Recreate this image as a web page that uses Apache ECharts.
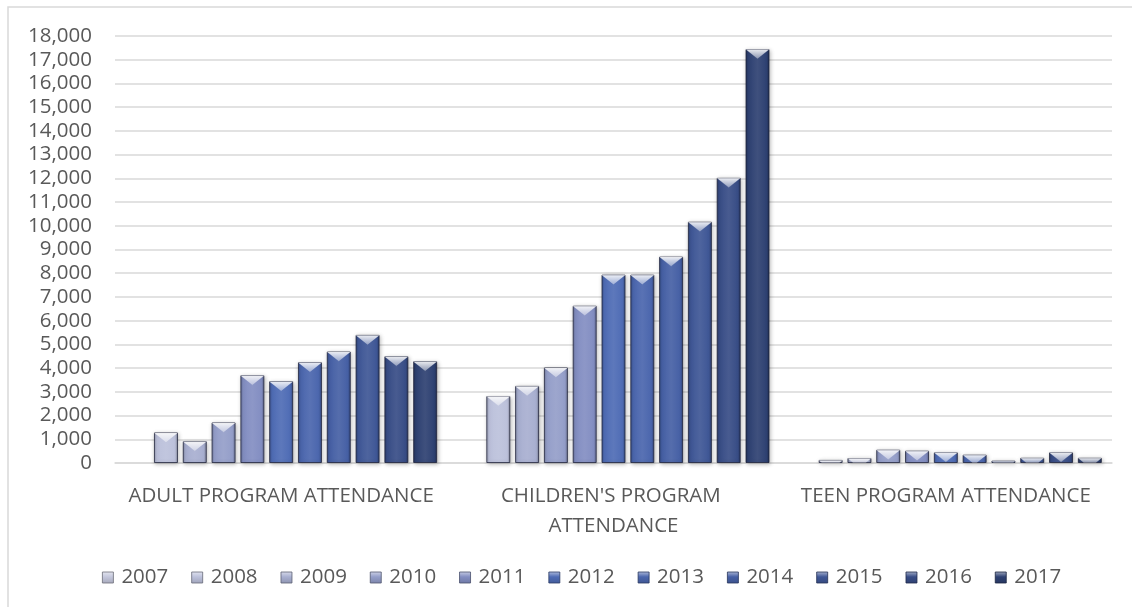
<!DOCTYPE html>
<html>
<head>
<meta charset="utf-8">
<style>
  html, body { margin: 0; padding: 0; background: #ffffff; }
  #chart { width: 1132px; height: 607px; }
</style>
<script src="https://cdn.jsdelivr.net/npm/echarts@6/dist/echarts.min.js"></script>
</head>
<body>
<div id="chart"></div>
<script>
// Program attendance by year, grouped by program type
const categories = ['ADULT PROGRAM ATTENDANCE', "CHILDREN'S PROGRAM ATTENDANCE", 'TEEN PROGRAM ATTENDANCE'];
const years = ['2007', '2008', '2009', '2010', '2011', '2012', '2013', '2014', '2015', '2016', '2017'];

// One array per year: [adult, children's, teen]
const y2007 = [null, null, null];
const y2008 = [1290, 2820, 130];
const y2009 = [920, 3250, 210];
const y2010 = [1710, 4030, 560];
const y2011 = [3700, 6630, 520];
const y2012 = [3450, 7940, 450];
const y2013 = [4250, 7940, 350];
const y2014 = [4700, 8700, 100];
const y2015 = [5400, 10170, 220];
const y2016 = [4500, 12020, 450];
const y2017 = [4290, 17450, 220];
const seriesValues = [y2007, y2008, y2009, y2010, y2011, y2012, y2013, y2014, y2015, y2016, y2017];

const yTicks = { min: 0, max: 18000, interval: 1000 };

// Light lavender for the earliest year down to deep navy for the latest
const yearColors = ['#c4c7dc', '#bcc1db', '#a8afd0', '#949ec9', '#838ec2', '#4f6cb5', '#4b66ad', '#4660a5', '#3f5796', '#384d86', '#2e4172'];

const BAR_W = 24;
const GAP = 0.2;
const CAP_H = 9;

function shade(hex, amt) {
  const n = parseInt(hex.slice(1), 16);
  let r = (n >> 16) & 255, g = (n >> 8) & 255, b = n & 255;
  const f = c => Math.max(0, Math.min(255, Math.round(amt < 0 ? c * (1 + amt) : c + (255 - c) * amt)));
  return 'rgb(' + f(r) + ',' + f(g) + ',' + f(b) + ')';
}

function barFill(hex) {
  return new echarts.graphic.LinearGradient(0, 0, 1, 0, [
    { offset: 0, color: shade(hex, -0.22) },
    { offset: 0.12, color: hex },
    { offset: 0.5, color: shade(hex, 0.08) },
    { offset: 0.88, color: hex },
    { offset: 1, color: shade(hex, -0.28) }
  ]);
}

const barSeries = years.map((yr, i) => ({
  name: yr,
  type: 'bar',
  barWidth: BAR_W,
  barGap: (GAP * 100) + '%',
  data: seriesValues[i],
  itemStyle: {
    color: barFill(yearColors[i]),
    borderColor: 'rgba(25,30,55,0.75)',
    borderWidth: 1,
    shadowBlur: 4,
    shadowColor: 'rgba(0,0,0,0.28)',
    shadowOffsetX: 1,
    shadowOffsetY: 1
  },
  emphasis: { disabled: true }
}));

// Bevelled top caps drawn on top of each bar, positioned from the same axes
const capData = [];
seriesValues.forEach((vals, yi) => {
  vals.forEach((v, ci) => {
    if (v != null) capData.push([ci, v, yi]);
  });
});

const capSeries = {
  type: 'custom',
  name: 'caps',
  silent: true,
  z: 3,
  data: capData,
  encode: { x: 0, y: 1 },
  renderItem: function (params, api) {
    const ci = api.value(0), v = api.value(1), yi = api.value(2);
    const top = api.coord([ci, v]);
    const base = api.coord([ci, 0]);
    const n = years.length;
    const total = n * BAR_W + (n - 1) * BAR_W * GAP;
    const x0 = top[0] - total / 2 + yi * BAR_W * (1 + GAP) + 0.5;
    const w = BAR_W - 1;
    const h = base[1] - top[1];
    const ch = Math.min(CAP_H, Math.max(0, h - 1));
    const hw = (w / 2) * (1 - ch / CAP_H);
    const xc = x0 + w / 2;
    const y = top[1] + 0.5;
    return {
      type: 'polygon',
      shape: { points: [[x0, y], [x0 + w, y], [xc + hw, y + ch], [xc - hw, y + ch]] },
      style: {
        fill: new echarts.graphic.LinearGradient(0, 0, 0, 1, [
          { offset: 0, color: 'rgba(255,255,255,0.9)' },
          { offset: 1, color: 'rgba(255,255,255,0.4)' }
        ]),
        stroke: 'rgba(255,255,255,0.25)',
        lineWidth: 0.5
      }
    };
  }
};

// Legend swatches: the year colour with a light bevel
const legendData = years.map((yr, i) => ({
  name: yr,
  itemStyle: {
    color: new echarts.graphic.LinearGradient(0, 0, 0, 1, [
      { offset: 0, color: shade(yearColors[i], 0.55) },
      { offset: 0.45, color: yearColors[i] },
      { offset: 1, color: shade(yearColors[i], -0.15) }
    ]),
    borderColor: shade(yearColors[i], -0.45),
    borderWidth: 0.8,
    shadowBlur: 0
  }
}));

const chart = echarts.init(document.getElementById('chart'));
chart.setOption({
  animation: false,
  backgroundColor: '#ffffff',
  textStyle: { fontFamily: 'Open Sans' },
  graphic: [{
    type: 'rect',
    silent: true,
    shape: { x: 8, y: 7, width: 1300, height: 800 },
    style: { fill: 'none', stroke: '#d9d9d9', lineWidth: 1.5 }
  }],
  grid: { left: 115, right: 20, top: 36, bottom: 144, containLabel: false },
  legend: {
    data: legendData,
    bottom: 14,
    left: 97,
    icon: 'rect',
    itemWidth: 11,
    itemHeight: 11,
    itemGap: 23,
    textStyle: { color: '#595959', fontSize: 20.5, fontFamily: 'Open Sans', padding: [0, 0, 0, 3] },
    selectedMode: false
  },
  xAxis: {
    type: 'category',
    data: categories,
    axisLine: { lineStyle: { color: '#d9d9d9', width: 1.5 } },
    axisTick: { show: false },
    axisLabel: {
      color: '#595959',
      fontSize: 20.5,
      margin: 18,
      width: 325,
      overflow: 'break',
      lineHeight: 30,
      interval: 0
    }
  },
  yAxis: {
    type: 'value',
    min: yTicks.min,
    max: yTicks.max,
    interval: yTicks.interval,
    axisLine: { show: false },
    axisTick: { show: false },
    splitLine: { lineStyle: { color: '#d9d9d9', width: 1.5 } },
    axisLabel: {
      color: '#595959',
      fontSize: 20.5,
      margin: 23,
      formatter: v => v.toLocaleString('en-US')
    }
  },
  series: barSeries.concat([capSeries])
});
</script>
</body>
</html>
